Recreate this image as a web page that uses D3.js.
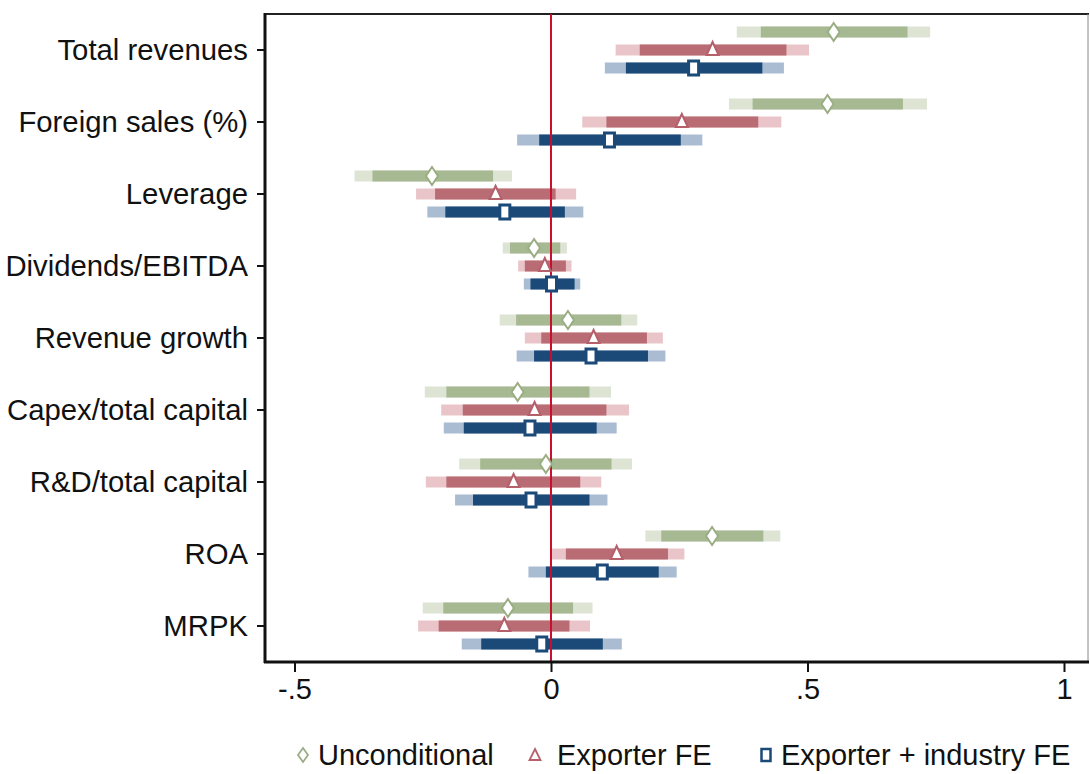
<!DOCTYPE html>
<html>
<head>
<meta charset="utf-8">
<script src="https://cdn.jsdelivr.net/npm/d3@7"></script>
<style>
  html, body { margin: 0; padding: 0; background: #fff; }
  svg { display: block; }
  text { font-family: "Liberation Sans", Arial, Helvetica, sans-serif; fill: #111; }
</style>
</head>
<body>
<svg id="chart" width="1090" height="774"></svg>
<script>
// ---------- data ----------
const categories = ["Total revenues", "Foreign sales (%)", "Leverage", "Dividends/EBITDA",
  "Revenue growth", "Capex/total capital", "R&D/total capital", "ROA", "MRPK"];

// each entry: [lo95, lo90, estimate, hi90, hi95]
const unconditional = [
  [0.362, 0.409, 0.551, 0.695, 0.739],
  [0.347, 0.393, 0.539, 0.686, 0.733],
  [-0.383, -0.348, -0.232, -0.113, -0.076],
  [-0.094, -0.080, -0.033, 0.018, 0.031],
  [-0.100, -0.068, 0.033, 0.137, 0.168],
  [-0.246, -0.204, -0.065, 0.075, 0.117],
  [-0.179, -0.138, -0.010, 0.118, 0.158],
  [0.184, 0.215, 0.314, 0.414, 0.447],
  [-0.250, -0.210, -0.084, 0.043, 0.081]
];
const exporterFE = [
  [0.126, 0.173, 0.315, 0.459, 0.503],
  [0.061, 0.108, 0.255, 0.404, 0.449],
  [-0.263, -0.226, -0.108, 0.009, 0.049],
  [-0.064, -0.051, -0.012, 0.029, 0.040],
  [-0.051, -0.019, 0.083, 0.187, 0.218],
  [-0.214, -0.172, -0.032, 0.108, 0.152],
  [-0.244, -0.204, -0.073, 0.057, 0.098],
  [-0.001, 0.029, 0.128, 0.228, 0.260],
  [-0.259, -0.219, -0.091, 0.036, 0.076]
];
const exporterIndustryFE = [
  [0.105, 0.146, 0.278, 0.412, 0.454],
  [-0.066, -0.023, 0.114, 0.253, 0.295],
  [-0.241, -0.206, -0.090, 0.027, 0.063],
  [-0.053, -0.040, 0.001, 0.046, 0.057],
  [-0.067, -0.033, 0.078, 0.189, 0.223],
  [-0.209, -0.170, -0.041, 0.089, 0.128],
  [-0.187, -0.152, -0.039, 0.075, 0.110],
  [-0.044, -0.010, 0.100, 0.210, 0.245],
  [-0.174, -0.136, -0.018, 0.101, 0.138]
];
const seriesNames = ["Unconditional", "Exporter FE", "Exporter + industry FE"];
const xTickValues = [-0.5, 0, 0.5, 1];
const xTickLabels = ["-.5", "0", ".5", "1"];

// ---------- styles ----------
const seriesStyle = [
  { dark: "#a7b992", light: "#dde4d4", stroke: "#9aae84", shape: "diamond", offset: -18 },
  { dark: "#b96c74", light: "#e9c5c9", stroke: "#b5606a", shape: "triangle", offset: 0 },
  { dark: "#1b4a79", light: "#a9bcd1", stroke: "#1b4a79", shape: "square", offset: 18 }
];
const seriesData = [unconditional, exporterFE, exporterIndustryFE];

const plot = { left: 265, right: 1088, top: 14, bottom: 662 };
const barH = 11;

const svg = d3.select("#chart");

const x = d3.scaleLinear().domain([-0.5575, 1.0468]).range([plot.left, plot.right]);
const y = d3.scaleBand().domain(categories).range([plot.top, plot.bottom]);
const yc = c => y(c) + y.bandwidth() / 2;

// frame
svg.append("line").attr("x1", plot.left).attr("x2", plot.right + 1)
  .attr("y1", plot.top).attr("y2", plot.top).attr("stroke", "#222").attr("stroke-width", 2);
svg.append("line").attr("x1", plot.right).attr("x2", plot.right)
  .attr("y1", plot.top).attr("y2", plot.bottom).attr("stroke", "#888").attr("stroke-width", 1);

const barLayer = svg.append("g");
const zeroLayer = svg.append("g");
const markLayer = svg.append("g");

// zero line (above bars, below markers)
zeroLayer.append("line")
  .attr("x1", x(0)).attr("x2", x(0))
  .attr("y1", plot.top).attr("y2", plot.bottom)
  .attr("stroke", "#c8102e").attr("stroke-width", 2);

// bars & markers
const symbolFor = {
  diamond: (cx, cy) => `M${cx},${cy - 9} L${cx + 6},${cy} L${cx},${cy + 9} L${cx - 6},${cy} Z`,
  triangle: (cx, cy) => `M${cx},${cy - 8} L${cx + 6},${cy + 5} L${cx - 6},${cy + 5} Z`,
  square: (cx, cy) => `M${cx - 5},${cy - 7} h10 v14 h-10 Z`
};

seriesData.forEach((data, si) => {
  const st = seriesStyle[si];
  const g = barLayer.append("g");
  const rows = categories.map((c, i) => ({ c, d: data[i] }));
  g.selectAll("rect.outer").data(rows).enter().append("rect")
    .attr("x", r => x(r.d[0]))
    .attr("width", r => x(r.d[4]) - x(r.d[0]))
    .attr("y", r => yc(r.c) + st.offset - barH / 2)
    .attr("height", barH)
    .attr("fill", st.light);
  g.selectAll("rect.inner").data(rows).enter().append("rect")
    .attr("x", r => x(r.d[1]))
    .attr("width", r => x(r.d[3]) - x(r.d[1]))
    .attr("y", r => yc(r.c) + st.offset - barH / 2)
    .attr("height", barH)
    .attr("fill", st.dark);
  markLayer.append("g").selectAll("path").data(rows).enter().append("path")
    .attr("d", r => symbolFor[st.shape](x(r.d[2]), yc(r.c) + st.offset))
    .attr("fill", "#fff")
    .attr("stroke", st.stroke)
    .attr("stroke-width", st.shape === "square" ? 3 : 2)
    .attr("stroke-linejoin", "miter");
});

// left axis
const yAxis = d3.axisLeft(y).tickSize(8).tickPadding(9);
const ya = svg.append("g").attr("transform", `translate(${plot.left},0)`).call(yAxis);
ya.select(".domain").attr("stroke", "#111").attr("stroke-width", 3)
  .attr("d", `M0,${plot.top - 1}V${plot.bottom + 1}`);
ya.selectAll(".tick line").attr("stroke", "#111").attr("stroke-width", 2);
ya.selectAll(".tick text").style("font-size", "29.3px")
  .style("font-family", "'Liberation Sans', Arial, sans-serif").attr("fill", "#111").attr("dy", "0.35em");

// bottom axis
const xAxis = d3.axisBottom(x).tickValues(xTickValues)
  .tickFormat((d, i) => xTickLabels[i]).tickSize(10).tickPadding(6);
const xa = svg.append("g").attr("transform", `translate(0,${plot.bottom})`).call(xAxis);
xa.select(".domain").attr("stroke", "#111").attr("stroke-width", 3)
  .attr("d", `M${plot.left - 1},0H${plot.right + 1}`);
xa.selectAll(".tick line").attr("stroke", "#111").attr("stroke-width", 2);
xa.selectAll(".tick text").style("font-size", "29px")
  .style("font-family", "'Liberation Sans', Arial, sans-serif").attr("fill", "#111");

// legend
const legendItems = [
  { x: 303, tx: 318 },
  { x: 535, tx: 557 },
  { x: 766, tx: 781 }
];
const legY = 755;
const lg = svg.append("g");
legendItems.forEach((li, i) => {
  const st = seriesStyle[i];
  let d;
  if (st.shape === "diamond") d = `M${li.x},${legY - 7} L${li.x + 5},${legY} L${li.x},${legY + 7} L${li.x - 5},${legY} Z`;
  if (st.shape === "triangle") d = `M${li.x},${legY - 6} L${li.x + 5.5},${legY + 5} L${li.x - 5.5},${legY + 5} Z`;
  if (st.shape === "square") d = `M${li.x - 4.5},${legY - 6} h9 v12 h-9 Z`;
  lg.append("path").attr("d", d).attr("fill", "#fff")
    .attr("stroke", st.stroke).attr("stroke-width", st.shape === "square" ? 2.5 : 1.8);
  lg.append("text").attr("x", li.tx).attr("y", legY).attr("dy", "0.36em")
    .style("font-size", "29px").text(seriesNames[i]);
});
</script>
</body>
</html>
